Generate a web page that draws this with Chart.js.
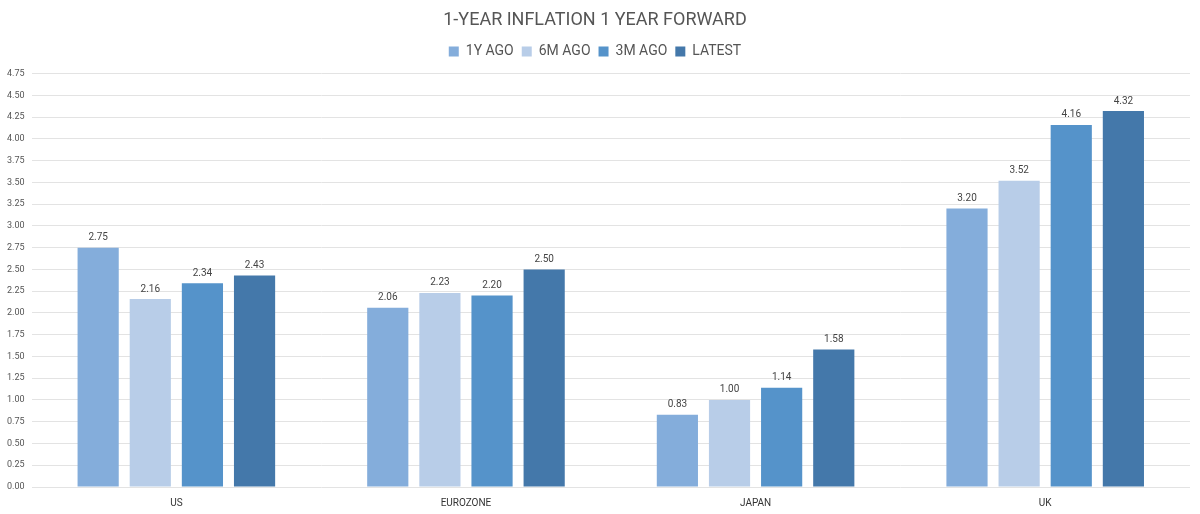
<!DOCTYPE html>
<html>
<head>
<meta charset="utf-8">
<script src="https://cdn.jsdelivr.net/npm/chart.js@4"></script>
<style>
  body { margin: 0; background: #fff; }
  #wrap { width: 1200px; height: 514px; }
</style>
</head>
<body>
<div id="wrap"><canvas id="grafico"></canvas></div>
<script>
const regioes = ["US", "EUROZONE", "JAPAN", "UK"];
const umAnoAtras = [2.75, 2.06, 0.83, 3.20];
const seisMesesAtras = [2.16, 2.23, 1.00, 3.52];
const tresMesesAtras = [2.34, 2.20, 1.14, 4.16];
const atual = [2.43, 2.50, 1.58, 4.32];

// rotulos em cima das barras
const rotulos = {
  id: "rotulos",
  afterDatasetsDraw(chart) {
    const ctx = chart.ctx;
    ctx.save();
    ctx.font = "10px Roboto";
    ctx.fillStyle = "#444";
    ctx.textAlign = "center";
    ctx.textBaseline = "bottom";
    chart.data.datasets.forEach((ds, i) => {
      chart.getDatasetMeta(i).data.forEach((bar, j) => {
        ctx.fillText(ds.data[j].toFixed(2), bar.x, bar.y - 5);
      });
    });
    ctx.restore();
  },
};

// espaco extra abaixo da legenda
const espacoLegenda = {
  id: "espacoLegenda",
  beforeInit(chart) {
    const fitOriginal = chart.legend.fit;
    chart.legend.fit = function () {
      fitOriginal.bind(chart.legend)();
      this.height += 5;
    };
  },
};

const ctx = document.getElementById("grafico").getContext("2d");
new Chart(ctx, {
  type: "bar",
  data: {
    labels: regioes,
    datasets: [
      { label: "1Y AGO", data: umAnoAtras, backgroundColor: "#84ADDB" },
      { label: "6M AGO", data: seisMesesAtras, backgroundColor: "#B8CDE8" },
      { label: "3M AGO", data: tresMesesAtras, backgroundColor: "#5593CA" },
      { label: "LATEST", data: atual, backgroundColor: "#4478AA" },
    ],
  },
  options: {
    responsive: true,
    maintainAspectRatio: false,
    animation: false,
    layout: { padding: { left: 0, right: 10, top: 10, bottom: -5 } },
    datasets: { bar: { categoryPercentage: 0.72, barPercentage: 0.79 } },
    plugins: {
      title: {
        display: true,
        text: "1-YEAR INFLATION 1 YEAR FORWARD",
        color: "#555",
        font: { family: "Roboto", size: 18, weight: "normal" },
        padding: { top: 0, bottom: 5 },
      },
      legend: {
        labels: {
          color: "#555",
          font: { family: "Roboto", size: 14 },
          boxWidth: 10,
          boxHeight: 10,
          padding: 8,
        },
      },
      tooltip: { enabled: false },
    },
    scales: {
      x: {
        grid: { display: false, drawTicks: false },
        border: { display: false },
        ticks: { color: "#333", font: { family: "Roboto", size: 10 }, padding: 10 },
      },
      y: {
        min: 0,
        max: 4.75,
        border: { display: false },
        grid: { color: "#e3e3e3", drawTicks: false },
        ticks: {
          stepSize: 0.25,
          color: "#555",
          font: { family: "Roboto", size: 9 },
          padding: 7,
          callback: (v) => v.toFixed(2),
        },
      },
    },
  },
  plugins: [rotulos, espacoLegenda],
});
</script>
</body>
</html>
